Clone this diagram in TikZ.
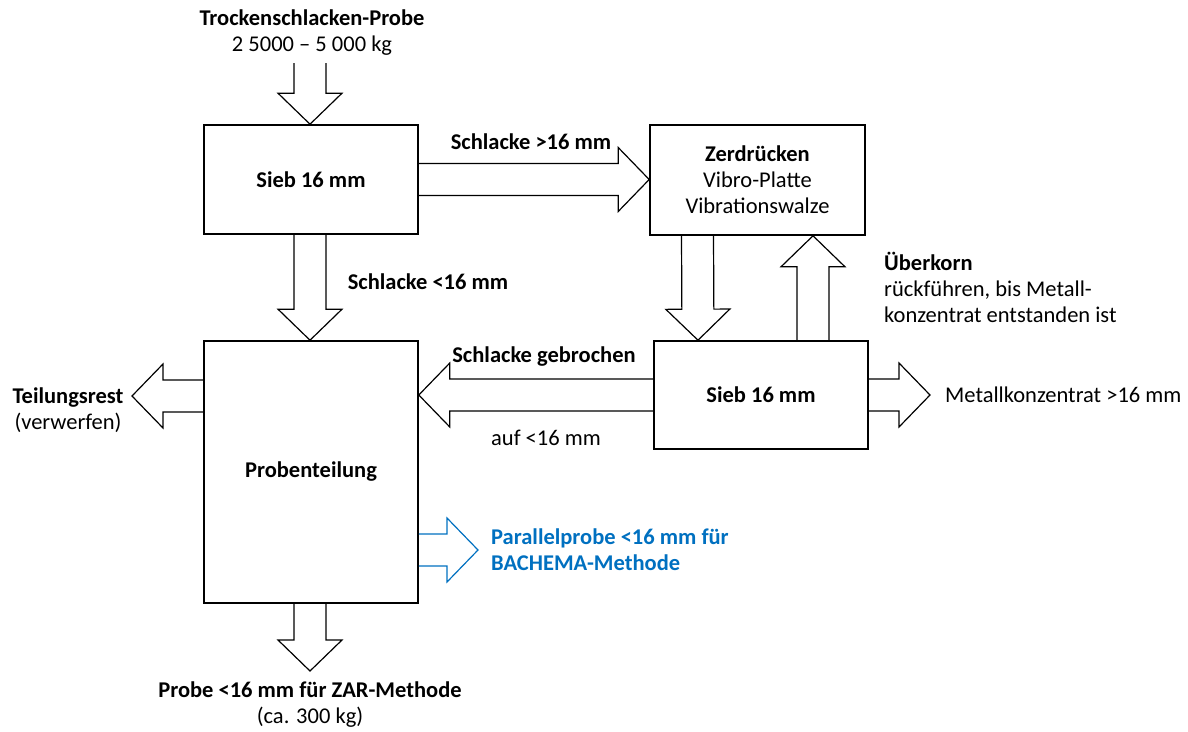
\documentclass[tikz,border=0pt]{standalone}
\usepackage{fontspec}
\setmainfont{Carlito}
\usetikzlibrary{calc}
\definecolor{obl}{RGB}{0,112,192}
\tikzset{
  box/.style={draw=black, line width=1.6pt, minimum width=214pt, minimum height=109pt, inner sep=0pt, align=center},
  barr/.style={draw=black, line width=1.2pt, line join=miter},
  lbl/.style={inner sep=0pt, align=center},
  txt/.style={font=\fontsize{22.5}{26}\selectfont}
}
% block arrow from #2 (base) to #3 (tip)
\newcommand\blockar[3][]{%
  \draw[barr,#1] let \p1=(#2), \p2=(#3), \n1={veclen(\x2-\x1,\y2-\y1)},
     \n2={(\x2-\x1)/\n1}, \n3={(\y2-\y1)/\n1} in
   ({\x1-16pt*\n3},{\y1+16pt*\n2})
   -- ({\x2-31pt*\n2-16pt*\n3},{\y2-31pt*\n3+16pt*\n2})
   -- ({\x2-31pt*\n2-32pt*\n3},{\y2-31pt*\n3+32pt*\n2})
   -- (\p2)
   -- ({\x2-31pt*\n2+32pt*\n3},{\y2-31pt*\n3-32pt*\n2})
   -- ({\x2-31pt*\n2+16pt*\n3},{\y2-31pt*\n3-16pt*\n2})
   -- ({\x1+16pt*\n3},{\y1-16pt*\n2});}
\begin{document}
\begin{tikzpicture}[x=1pt,y=-1pt,txt]
\useasboundingbox (0,0) rectangle (1188,731);
% boxes
\node[box] (s1) at (311,179.5) {\textbf{Sieb 16 mm}};
\node[box, minimum width=215pt, minimum height=110pt] (z) at (757.5,180) {\textbf{Zerdrücken}\\Vibro-Platte\\Vibrationswalze};
\node[box, minimum width=214pt, minimum height=108pt] (s2) at (761,395) {\textbf{Sieb 16 mm}};
\node[box, minimum height=262pt] (p) at (311,472) {\textbf{Probenteilung}};
% free ends
\coordinate (in) at (310,63);
\coordinate (zar) at (310,671);
\coordinate (met) at (930,395);
\coordinate (tr) at (132,396);
\coordinate (par) at (478,550);
% arrows
\blockar{in}{s1.north -| in}
\blockar{s1.south -| in}{p.north -| in}
\blockar{s1.east}{z.west |- s1.east}
\blockar{$(z.south)+(-60,0)$}{$(s2.north)+(-63,0)$}
\blockar{$(s2.north)+(52,0)$}{z.south -| {$(s2.north)+(52,0)$}}
\blockar{s2.west}{p.east |- s2.west}
\blockar{s2.east}{met}
\blockar{p.west |- tr}{tr}
\blockar[draw=obl]{p.east |- par}{par}
\blockar{p.south -| zar}{zar}
% labels
\node[lbl] (src) at (312,33) {\textbf{Trockenschlacken-Probe}\\2 5000 – 5 000 kg};
\node[lbl] (l1) at (531,142) {\textbf{Schlacke >16 mm}};
\node[lbl] (l2) at (428,282) {\textbf{Schlacke <16 mm}};
\node[lbl, align=left, anchor=west] (l3) at (884,287) {\textbf{Überkorn}\\rückführen, bis Metall-\\konzentrat entstanden ist};
\node[lbl] (l4) at (544,357) {\textbf{Schlacke gebrochen}};
\node[lbl] (l5) at (546,438) {auf <16 mm};
\node[lbl, anchor=west] (l6) at (945,395) {Metallkonzentrat >16 mm};
\node[lbl] (l7) at (68,410) {\textbf{Teilungsrest}\\(verwerfen)};
\node[lbl, align=left, anchor=west, text=obl] (l8) at (491,550) {\textbf{Parallelprobe <16 mm für}\\\textbf{BACHEMA-Methode}};
\node[lbl] (l9) at (310,705) {\textbf{Probe <16 mm für ZAR-Methode}\\(ca. 300 kg)};
\end{tikzpicture}
\end{document}
